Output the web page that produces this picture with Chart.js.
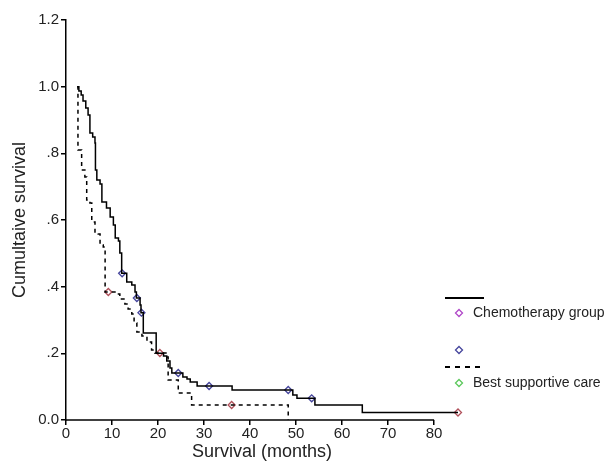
<!DOCTYPE html>
<html>
<head>
<meta charset="utf-8">
<script src="https://cdn.jsdelivr.net/npm/chart.js@4.4.1/dist/chart.umd.min.js"></script>
<style>
  html, body { margin: 0; padding: 0; background: #fff; }
  #wrap { position: relative; width: 610px; height: 467px; }
</style>
</head>
<body>
<div id="wrap"><canvas id="km"></canvas></div>
<script>
// ----- data -----
// chemotherapy group: time (months) / cumulative survival after each drop
const chemoTime = [2.5, 2.8, 3.3, 3.7, 4.3, 4.8, 5.2, 5.8, 6.3, 6.4, 6.7, 7.4, 7.8, 8.8, 9.6, 10.3, 10.7, 11.4, 11.7, 12.1,
  13.2, 14.3, 15.0, 15.3, 16.1, 16.3, 16.8, 19.6, 21.2, 21.9, 22.6, 23.0, 25.4, 26.3, 27.0, 28.5, 36.1, 49.3, 50.2, 54.1, 64.4, 85.2];
const chemoSurv = [1.0, 0.987, 0.975, 0.957, 0.936, 0.915, 0.861, 0.849, 0.831, 0.75, 0.72, 0.708, 0.654, 0.636, 0.609, 0.585, 0.546, 0.537, 0.501, 0.44,
  0.414, 0.405, 0.384, 0.366, 0.345, 0.322, 0.261, 0.20, 0.192, 0.177, 0.156, 0.141, 0.129, 0.123, 0.114, 0.102, 0.09, 0.075, 0.065, 0.045, 0.0225, 0.0225];

// best supportive care
const bscTime = [2.4, 2.6, 3.4, 4.1, 4.5, 5.2, 5.6, 5.9, 6.3, 7.0, 7.4, 8.1, 8.5, 11.1, 11.7, 12.8, 13.5, 14.3, 14.8,
  15.4, 16.5, 17.6, 18.6, 19.3, 21.9, 22.2, 24.4, 27.3, 48.3];
const bscSurv = [1.0, 0.81, 0.75, 0.729, 0.66, 0.651, 0.60, 0.594, 0.564, 0.558, 0.525, 0.519, 0.384, 0.378, 0.363, 0.348, 0.333, 0.318, 0.291,
  0.264, 0.252, 0.234, 0.21, 0.201, 0.189, 0.12, 0.081, 0.045, 0.0];

// censored marks
const chemoCensTime = [12.2, 15.4, 16.4, 24.4, 31.1, 48.3, 53.4];
const chemoCensSurv = [0.44, 0.366, 0.322, 0.141, 0.102, 0.09, 0.065];
const redCensTime = [9.2, 20.4, 36.0, 85.2];
const redCensSurv = [0.384, 0.201, 0.045, 0.0225];

const xTicks = [0, 10, 20, 30, 40, 50, 60, 70, 80];
const yTickLabels = { 0: '0.0', 0.2: '.2', 0.4: '.4', 0.6: '.6', 0.8: '.8', 1: '1.0', 1.2: '1.2' };

const legendItems = [
  { kind: 'line', dash: [], y: 298 },
  { kind: 'mark', color: '#b048c8', y: 313, text: 'Chemotherapy group' },
  { kind: 'mark', color: '#44449c', y: 350, text: '' },
  { kind: 'line', dash: [5, 5], y: 367 },
  { kind: 'mark', color: '#5cc85c', y: 383, text: 'Best supportive care' },
];

const FONT = '"Liberation Sans", Arial, Helvetica, sans-serif';
const pts = (xs, ys) => xs.map((x, i) => ({ x, y: ys[i] }));

// x axis line only runs from 0 to 80, legend drawn at the right
const extras = {
  id: 'extras',
  afterDraw(chart) {
    const { ctx, scales: { x, y } } = chart;
    ctx.save();
    ctx.strokeStyle = '#000';
    ctx.lineWidth = 1.5;
    ctx.beginPath();
    ctx.moveTo(x.getPixelForValue(0), y.getPixelForValue(0));
    ctx.lineTo(x.getPixelForValue(80), y.getPixelForValue(0));
    ctx.stroke();

    legendItems.forEach(it => {
      if (it.kind === 'line') {
        ctx.setLineDash(it.dash);
        ctx.lineWidth = 2;
        ctx.beginPath();
        ctx.moveTo(445, it.y);
        ctx.lineTo(484, it.y);
        ctx.stroke();
        ctx.setLineDash([]);
      } else {
        ctx.strokeStyle = it.color;
        ctx.lineWidth = 1.3;
        ctx.beginPath();
        ctx.moveTo(459, it.y - 3.5);
        ctx.lineTo(462.5, it.y);
        ctx.lineTo(459, it.y + 3.5);
        ctx.lineTo(455.5, it.y);
        ctx.closePath();
        ctx.stroke();
        ctx.strokeStyle = '#000';
        if (it.text) {
          ctx.fillStyle = '#222';
          ctx.font = '14px ' + FONT;
          ctx.textBaseline = 'middle';
          ctx.fillText(it.text, 473, it.y);
        }
      }
    });
    ctx.restore();
  }
};

new Chart(document.getElementById('km'), {
  type: 'line',
  data: {
    datasets: [
      {
        data: pts(chemoTime, chemoSurv),
        borderColor: '#000', borderWidth: 1.5, pointRadius: 0,
        stepped: true, fill: false, clip: false,
      },
      {
        data: pts(bscTime, bscSurv),
        borderColor: '#000', borderWidth: 1.5, borderDash: [4, 4], pointRadius: 0,
        stepped: true, fill: false, clip: false,
      },
      {
        type: 'scatter',
        data: pts(chemoCensTime, chemoCensSurv),
        pointStyle: 'rectRot', pointRadius: 3.5, borderWidth: 1.3,
        borderColor: '#44449c', backgroundColor: 'rgba(255,255,255,0)', clip: false,
      },
      {
        type: 'scatter',
        data: pts(redCensTime, redCensSurv),
        pointStyle: 'rectRot', pointRadius: 3.5, borderWidth: 1.3,
        borderColor: '#b0505a', backgroundColor: 'rgba(255,255,255,0)', clip: false,
      },
    ]
  },
  options: {
    responsive: true,
    maintainAspectRatio: false,
    animation: false,
    layout: { padding: { left: 0, right: 152, top: 20, bottom: 0 } },
    plugins: { legend: { display: false }, tooltip: { enabled: false } },
    scales: {
      x: {
        type: 'linear', min: 0, max: 85.2,
        afterFit: s => { s.height = 47; },
        afterBuildTicks: s => { s.ticks = xTicks.map(v => ({ value: v })); },
        border: { display: false },
        grid: { drawOnChartArea: false, drawTicks: true, tickLength: 5, color: '#000', lineWidth: 1.5 },
        ticks: { color: '#222', font: { family: FONT, size: 15 }, padding: 0, maxRotation: 0 },
        title: { display: true, text: 'Survival (months)', color: '#222', font: { family: FONT, size: 18 }, padding: { top: 0, bottom: 4 } },
      },
      y: {
        type: 'linear', min: 0, max: 1.2,
        afterFit: s => { s.width = 66; },
        border: { display: true, color: '#000', width: 1.5 },
        grid: { drawOnChartArea: false, drawTicks: true, tickLength: 5, color: '#000', lineWidth: 1.5 },
        ticks: {
          stepSize: 0.2, color: '#222', font: { family: FONT, size: 15 }, padding: 2,
          callback: v => yTickLabels[Math.round(v * 10) / 10] ?? '',
        },
        title: { display: true, text: 'Cumultaive survival', color: '#222', font: { family: FONT, size: 18 }, padding: { top: 9, bottom: 0 } },
      }
    }
  },
  plugins: [extras]
});
</script>
</body>
</html>
